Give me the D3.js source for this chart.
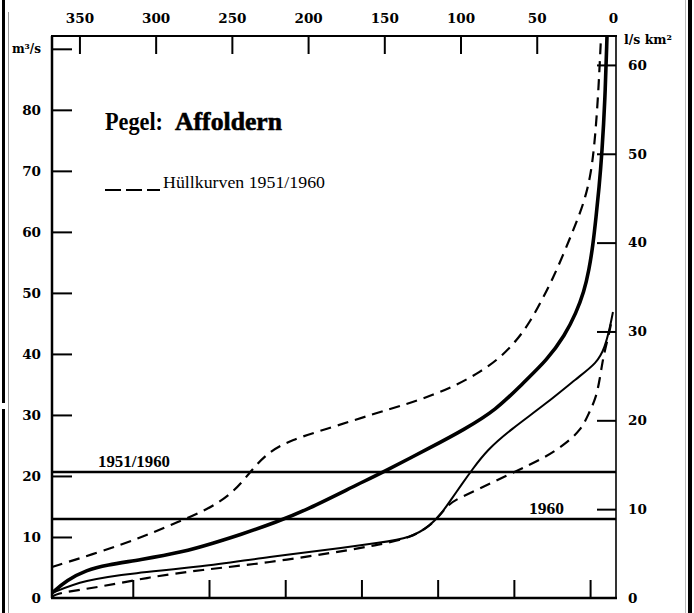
<!DOCTYPE html>
<html>
<head>
<meta charset="utf-8">
<script src="https://cdn.jsdelivr.net/npm/d3@7"></script>
<style>
  body { margin: 0; background: #fff; }
  svg { display: block; }
  .tick text { font-family: "DejaVu Serif", serif; font-weight: bold; font-size: 13.5px; fill: #000; }
  .tick line { stroke: #000; stroke-width: 2; }
</style>
</head>
<body>
<script>
// ---- Data ----
// x: Tage (Unterschreitungsdauer, von rechts nach links), y: Abfluss m³/s
const topTicks = [350, 300, 250, 200, 150, 100, 50, 0];
const bottomTicks = [15, 65, 115, 165, 215, 265, 315];
const leftTicks = [0, 10, 20, 30, 40, 50, 60, 70, 80, 90];
const rightTicks = [0, 10, 20, 30, 40, 50, 60];
const catchmentKm2 = 1456;

// mittlere Dauerlinie 1951/1960 (dicke Linie)
const meanDays = [368, 358.2, 345.4, 332.3, 310.7, 281.8, 262.1, 245.1, 220.8, 201.1, 168.3, 150.6, 117.8, 98.2, 76.6, 59.0, 43.2, 31.4, 24.2, 19.0, 15.7, 13.1, 11.1, 9.1, 7.2, 5.2, 3.9];
const meanFlow = [0.82, 2.95, 4.59, 5.41, 6.23, 7.54, 9.01, 10.32, 12.45, 14.42, 18.52, 20.65, 24.91, 27.53, 30.81, 35.23, 39.0, 43.1, 46.71, 50.15, 53.75, 57.85, 62.44, 67.19, 72.93, 81.61, 92.1];

// Dauerlinie 1960 (dünne Linie)
const y1960Days = [368, 347.1, 314.3, 270.3, 226.9, 172.5, 154.8, 132.5, 119.4, 112.8, 106.3, 99.1, 92.5, 82.6, 67.5, 43.2, 23.6, 10.4, 5.2, 1.9, 0];
const y1960Flow = [0.82, 2.95, 4.10, 5.08, 6.72, 8.36, 9.01, 9.83, 11.96, 13.77, 16.06, 18.68, 20.98, 24.25, 27.53, 31.96, 36.05, 38.51, 41.13, 44.41, 46.87];

// obere Hüllkurve 1951/1960
const upperDays = [368, 336.5, 310.3, 288.6, 266.3, 249.2, 238.0, 226.9, 211.8, 183.6, 157.4, 135.1, 118.1, 102.4, 87.2, 74.1, 62.9, 54.4, 45.9, 39.3, 32.7, 26.8, 21.6, 18.3, 15.0, 12.4, 9.8, 7.8];
const upperFlow = [5.08, 7.54, 9.83, 12.13, 14.42, 17.21, 20.65, 23.76, 25.89, 28.02, 30.15, 31.79, 33.27, 34.91, 37.04, 39.33, 42.28, 45.23, 49.16, 52.44, 56.21, 59.82, 63.09, 65.55, 68.83, 73.42, 81.61, 92.1];

// untere Hüllkurve 1951/1960
const lowerDays = [368, 364.7, 336.5, 303.7, 270.9, 226.9, 172.5, 154.8, 132.5, 119.4, 112.8, 108.2, 102.4, 89.2, 64.9, 45.2, 32.1, 20.9, 15.7, 11.1, 8.5, 6.5, 3.9, 1.9, 0.6];
const lowerFlow = [0.16, 0.82, 1.80, 3.44, 4.59, 5.74, 7.87, 8.69, 9.83, 11.96, 13.77, 15.24, 16.22, 17.70, 20.65, 22.94, 25.07, 27.53, 30.32, 32.78, 36.05, 39.33, 41.95, 44.08, 45.89];

// Mittelwasser-Linien
const meanLevels = [20.65, 12.95];
const meanLabels = ["1951/1960", "1960"];

const titleA = "Pegel:";
const titleB = "Affoldern";
const legendText = "Hüllkurven 1951/1960";

// ---- Drawing ----
const W = 694, H = 613;
const svg = d3.select("body").append("svg").attr("width", W).attr("height", H);

const x = d3.scaleLinear().domain([368, -2]).range([52, 616]);
const y = d3.scaleLinear().domain([0, 92.1]).range([598, 36]);
const yR = d3.scaleLinear().domain([0, 92.1 * 1000 / catchmentKm2]).range([598, 36]);

// page border artefacts of the scan
svg.append("rect").attr("x", 2).attr("y", 0).attr("width", 3).attr("height", 403).attr("fill", "#000");
svg.append("rect").attr("x", 2).attr("y", 409).attr("width", 3).attr("height", H - 409).attr("fill", "#000");
svg.append("line").attr("x1", 8.5).attr("x2", 8.5).attr("y1", 12).attr("y2", H).attr("stroke", "#999").attr("stroke-width", 1);
svg.append("rect").attr("x", 688).attr("y", 0).attr("width", 4).attr("height", H).attr("fill", "#000");
svg.append("line").attr("x1", 685.5).attr("x2", 685.5).attr("y1", 0).attr("y2", H).attr("stroke", "#bbb").attr("stroke-width", 1);

// axes
const gTop = svg.append("g").attr("transform", `translate(0,${y.range()[1]})`)
  .call(d3.axisTop(x).tickValues(topTicks).tickSize(-18).tickPadding(13).tickFormat(d3.format("d")));
gTop.select(".domain").remove();
gTop.selectAll(".tick").filter(d => d === 0).select("line").remove();

const gBot = svg.append("g").attr("transform", `translate(0,${y.range()[0]})`)
  .call(d3.axisBottom(x).tickValues(bottomTicks).tickSize(-18).tickFormat(""));
gBot.select(".domain").remove();

const gLeft = svg.append("g").attr("transform", `translate(${x.range()[0]},0)`)
  .call(d3.axisLeft(y).tickValues(leftTicks).tickSize(-20).tickPadding(11)
    .tickFormat(d => d === 90 ? "m³/s" : d));
gLeft.select(".domain").remove();
gLeft.selectAll(".tick").filter(d => d === 0).select("line").remove();
gLeft.selectAll(".tick").filter(d => d === 90).select("text").style("font-size", "12px");

const gRight = svg.append("g").attr("transform", `translate(${x.range()[1]},0)`)
  .call(d3.axisRight(yR).tickValues(rightTicks).tickSize(-19).tickPadding(12));
gRight.select(".domain").remove();
gRight.selectAll(".tick").filter(d => d === 0).select("line").remove();

svg.append("text").attr("x", 624).attr("y", 44)
  .style("font-family", "DejaVu Serif, serif").style("font-weight", "bold").style("font-size", "12.5px")
  .text("l/s km²");

// frame
const fx0 = x.range()[0], fx1 = x.range()[1], fy0 = y.range()[1], fy1 = y.range()[0];
svg.append("line").attr("x1", fx0 - 1).attr("x2", fx1 + 1).attr("y1", fy0).attr("y2", fy0).attr("stroke", "#000").attr("stroke-width", 2);
svg.append("line").attr("x1", fx0 - 1).attr("x2", fx1 + 1).attr("y1", fy1).attr("y2", fy1).attr("stroke", "#000").attr("stroke-width", 2.5);
svg.append("line").attr("x1", fx0).attr("x2", fx0).attr("y1", fy0).attr("y2", fy1).attr("stroke", "#000").attr("stroke-width", 2.5);
svg.append("line").attr("x1", fx1).attr("x2", fx1).attr("y1", fy0).attr("y2", fy1).attr("stroke", "#000").attr("stroke-width", 1.6);

// mean-flow horizontals
meanLevels.forEach((v) => {
  svg.append("line").attr("x1", fx0).attr("x2", fx1).attr("y1", y(v)).attr("y2", y(v))
    .attr("stroke", "#000").attr("stroke-width", 2.6);
});
svg.append("text").attr("x", 98).attr("y", y(meanLevels[0]) - 5)
  .attr("textLength", 72).attr("lengthAdjust", "spacingAndGlyphs")
  .style("font-family", "Liberation Serif, serif").style("font-size", "16px").style("font-weight", "bold")
  .text(meanLabels[0]);
svg.append("text").attr("x", 529).attr("y", y(meanLevels[1]) - 5)
  .attr("textLength", 35).attr("lengthAdjust", "spacingAndGlyphs")
  .style("font-family", "Liberation Serif, serif").style("font-size", "16px").style("font-weight", "bold")
  .text(meanLabels[1]);

// curves
const line = d3.line().x(d => x(d[0])).y(d => y(d[1])).curve(d3.curveBasis);
const zip = (a, b) => a.map((v, i) => [v, b[i]]);

svg.append("path").datum(zip(upperDays, upperFlow)).attr("d", line)
  .attr("fill", "none").attr("stroke", "#000").attr("stroke-width", 2.2).attr("stroke-dasharray", "11,7");
svg.append("path").datum(zip(lowerDays, lowerFlow)).attr("d", line)
  .attr("fill", "none").attr("stroke", "#000").attr("stroke-width", 2.2).attr("stroke-dasharray", "11,7");
svg.append("path").datum(zip(y1960Days, y1960Flow)).attr("d", line)
  .attr("fill", "none").attr("stroke", "#000").attr("stroke-width", 2);
svg.append("path").datum(zip(meanDays, meanFlow)).attr("d", line)
  .attr("fill", "none").attr("stroke", "#000").attr("stroke-width", 3.6);

// title
svg.append("text").attr("x", 105).attr("y", 130)
  .attr("textLength", 58).attr("lengthAdjust", "spacingAndGlyphs")
  .style("font-family", "Liberation Serif, serif").style("font-size", "25px").style("font-weight", "bold")
  .text(titleA);
svg.append("text").attr("x", 175).attr("y", 130)
  .attr("textLength", 107).attr("lengthAdjust", "spacingAndGlyphs")
  .style("font-family", "Liberation Serif, serif").style("font-size", "26px").style("font-weight", "bold")
  .style("stroke", "#000").style("stroke-width", 0.6)
  .text(titleB);

// legend
svg.append("line").attr("x1", 105).attr("x2", 160).attr("y1", 190).attr("y2", 190)
  .attr("stroke", "#000").attr("stroke-width", 2).attr("stroke-dasharray", "16,5");
svg.append("text").attr("x", 163).attr("y", 188)
  .attr("textLength", 162).attr("lengthAdjust", "spacingAndGlyphs")
  .style("font-family", "Liberation Serif, serif").style("font-size", "17px")
  .text(legendText);
</script>
</body>
</html>
